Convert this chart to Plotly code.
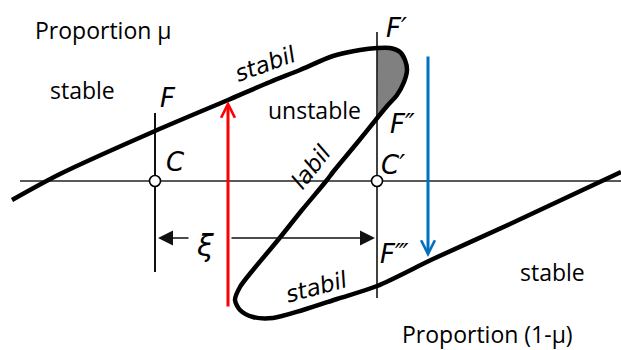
import plotly.graph_objects as go

# S-shaped characteristic curve (pixel-like diagram coordinates, y down)
curve_x = [12, 60, 155, 228, 270, 300, 333, 360, 377, 390, 400, 405, 407, 404, 397, 388, 378,
           357, 333, 327, 302, 278, 253, 240, 235, 240, 253, 273, 303, 337, 377, 433, 510, 621]
curve_y = [200, 174, 131, 100, 82, 70, 56, 50, 48, 48, 52, 60, 70, 82, 95, 105, 117,
           143, 172, 180, 210, 240, 270, 287, 300, 310, 317, 318, 310, 299, 286, 259, 224, 172]

# shaded unstable lobe between F' and F''
shade_x = [377, 390, 400, 405, 407, 404, 397, 388, 378, 377]
shade_y = [48, 48, 52, 60, 70, 82, 95, 105, 117, 48]

# horizontal axis and the two vertical markers
axis_x = [20, 621]
axis_y = [181, 181]
mark_C_x = [155, 155]
mark_C_y = [113, 272]
mark_C2_x = [377, 377]
mark_C2_y = [32, 298]
points_x = [155, 377]
points_y = [181, 181]

labels_plain = ["Proportion μ", "stable", "unstable", "stable", "Proportion (1-μ)"]
labels_italic = ["stabil", "labil", "stabil", "F", "C", "F′", "F″", "C′", "F‴", "ξ"]

fig = go.Figure()

fig.add_trace(go.Scatter(x=shade_x, y=shade_y, mode="lines", fill="toself",
                         fillcolor="#808080", line=dict(width=0), hoverinfo="skip"))
fig.add_trace(go.Scatter(x=axis_x, y=axis_y, mode="lines",
                         line=dict(color="#222", width=1.5)))
fig.add_trace(go.Scatter(x=mark_C_x, y=mark_C_y, mode="lines",
                         line=dict(color="#111", width=2)))
fig.add_trace(go.Scatter(x=mark_C2_x, y=mark_C2_y, mode="lines",
                         line=dict(color="#111", width=1.6)))
fig.add_trace(go.Scatter(x=curve_x, y=curve_y, mode="lines",
                         line=dict(color="black", width=4.5, shape="spline", smoothing=0.8)))
fig.add_trace(go.Scatter(x=points_x, y=points_y, mode="markers",
                         marker=dict(size=11, color="white", line=dict(color="black", width=1.6))))

def arrow(x0, y0, x1, y1, color, width, head, size):
    fig.add_annotation(x=x1, y=y1, ax=x0, ay=y0, xref="x", yref="y", axref="x", ayref="y",
                       showarrow=True, arrowhead=head, arrowsize=size, arrowwidth=width,
                       arrowcolor=color, text="")

# red (up) and blue (down) jumps
arrow(228, 308, 228, 101, "#ff0000", 3, 5, 0.9)
arrow(428, 55, 428, 257, "#0070c0", 3, 5, 0.9)
# xi dimension line
arrow(190, 238, 158, 238, "#111", 1.5, 2, 2)
arrow(230, 238, 375, 238, "#111", 1.5, 2, 2)

plain_pos = [(103, 30), (82, 90), (314, 110), (552, 272), (487, 334)]
for t, (x, y) in zip(labels_plain, plain_pos):
    fig.add_annotation(x=x, y=y, text=t, showarrow=False,
                       font=dict(family="Open Sans", size=23, color="black"))

italic_pos = [(265, 64, -20, 23), (311, 167, -52, 23), (316, 287, -15, 23),
              (168, 98, 0, 26), (175, 162, 0, 26), (396, 28, 0, 26), (402, 124, 0, 26),
              (393, 165, 0, 26), (394, 254, 0, 26), (205, 245, 0, 30)]
for t, (x, y, a, s) in zip(labels_italic, italic_pos):
    fig.add_annotation(x=x, y=y, text=t, showarrow=False, textangle=a,
                       font=dict(family="DejaVu Sans", size=s, color="black", style="italic"))

fig.update_layout(width=621, height=350, margin=dict(l=0, r=0, t=0, b=0),
                  showlegend=False, plot_bgcolor="white", paper_bgcolor="white",
                  xaxis=dict(range=[0, 621], visible=False),
                  yaxis=dict(range=[350, 0], visible=False))

fig.write_html("out.html", config={"displayModeBar": False},
               post_script="document.body.style.margin='0';")
